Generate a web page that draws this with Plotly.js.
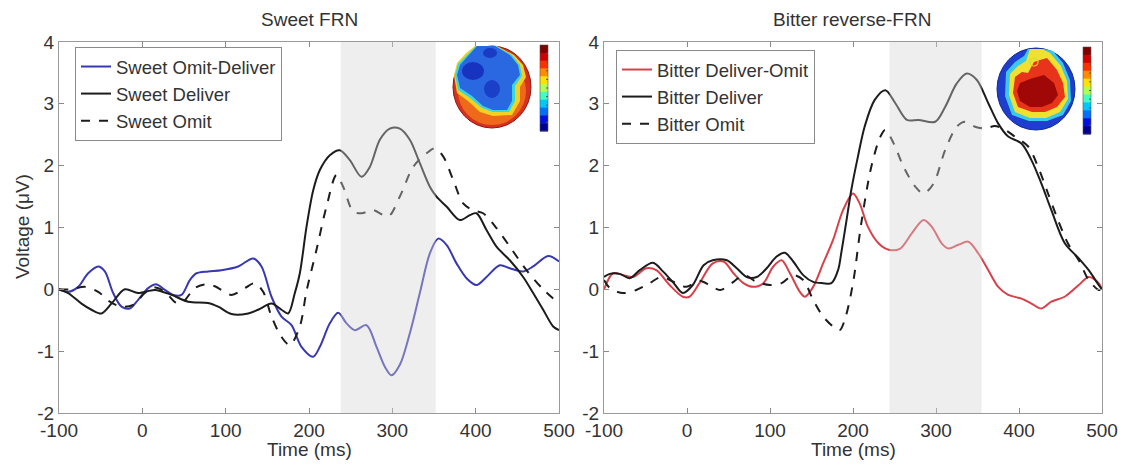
<!DOCTYPE html>
<html>
<head>
<meta charset="utf-8">
<script src="https://cdn.plot.ly/plotly-3.0.1.min.js"></script>
<style>html,body{margin:0;padding:0;background:#fff}#chart{width:1133px;height:465px}</style>
</head>
<body>
<div id="chart"></div>
<script>
// ---------- data ----------
const panelTitles = ["Sweet FRN", "Bitter reverse-FRN"];
const xTickVals = [-100, 0, 100, 200, 300, 400, 500];
const xTickText = ["-100", "0", "100", "200", "300", "400", "500"];
const yTickVals = [-2, -1, 0, 1, 2, 3, 4];
const yTickText = ["-2", "-1", "0", "1", "2", "3", "4"];
const windowSweet = [238, 352];
const windowBitter = [244, 355];

const sweetDiffT = [-100,-89,-77,-65,-53,-45,-35,-25,-15,-5,7,17,27,37,47,57,65,79,95,115,133,143,155,167,179,191,205,213,225,235,245,255,269,281,291,299,309,321,333,345,355,365,377,389,401,413,429,441,457,469,487,500];
const sweetDiffV = [0.00,-0.04,0.04,0.26,0.37,0.29,-0.06,-0.28,-0.31,-0.17,0.02,0.08,-0.01,-0.09,-0.09,0.15,0.26,0.29,0.31,0.37,0.50,0.37,-0.12,-0.44,-0.58,-0.93,-1.09,-0.93,-0.55,-0.38,-0.55,-0.66,-0.58,-0.93,-1.25,-1.39,-1.22,-0.71,-0.06,0.58,0.82,0.72,0.42,0.18,0.07,0.20,0.39,0.34,0.29,0.37,0.54,0.45];

const sweetDelT = [-100,-89,-73,-61,-49,-37,-21,-5,15,35,55,79,91,107,127,139,155,167,175,183,189,197,205,213,225,237,249,263,273,285,297,309,321,333,345,353,365,381,393,401,413,425,441,457,469,481,493,500];
const sweetDelV = [0.00,-0.06,-0.23,-0.33,-0.39,-0.23,0.00,-0.06,-0.01,-0.09,-0.20,-0.22,-0.28,-0.40,-0.39,-0.33,-0.23,-0.33,-0.39,-0.06,0.26,1.01,1.60,1.93,2.17,2.25,2.09,1.82,1.98,2.42,2.60,2.60,2.42,2.04,1.66,1.50,1.34,1.12,1.20,1.23,0.96,0.69,0.47,0.20,-0.06,-0.33,-0.60,-0.66];

const sweetOmitT = [-100,-85,-69,-53,-39,-25,-11,3,15,27,41,49,63,75,87,107,123,135,145,155,167,177,189,197,209,221,233,241,253,263,277,295,309,325,341,351,361,373,385,397,409,425,441,461,481,500];
const sweetOmitV = [0.00,0.00,0.04,-0.04,-0.20,-0.28,-0.25,-0.06,0.03,-0.04,-0.22,-0.20,0.02,0.08,0.05,-0.09,0.02,0.10,-0.04,-0.44,-0.77,-0.90,-0.60,-0.03,0.64,1.34,1.85,1.66,1.26,1.23,1.28,1.18,1.50,1.98,2.20,2.28,2.15,1.77,1.39,1.28,1.23,0.99,0.69,0.31,0.00,-0.23];

const bitterDiffT = [-100,-89,-77,-65,-49,-37,-21,-5,3,15,31,44,56,68,80,92,104,114,124,136,142,152,164,176,188,200,208,218,231,243,257,271,285,295,307,315,327,339,351,363,375,387,403,415,427,439,455,472,484,496,500];
const bitterDiffV = [0.00,0.26,0.23,0.20,0.34,0.31,0.07,-0.12,-0.12,0.10,0.42,0.45,0.26,0.10,0.04,0.10,0.37,0.47,0.26,-0.04,-0.12,0.04,0.42,0.80,1.28,1.55,1.39,1.01,0.74,0.64,0.66,0.91,1.12,1.01,0.74,0.66,0.72,0.77,0.58,0.31,0.04,-0.09,-0.15,-0.23,-0.31,-0.20,-0.12,0.07,0.20,0.10,0.00];

const bitterDelT = [-100,-93,-81,-69,-57,-41,-29,-16,-5,7,20,31,48,60,72,84,96,108,118,128,140,152,164,174,182,186,192,198,206,214,226,239,251,265,279,299,311,325,337,349,363,375,387,403,415,427,439,455,472,484,496,500];
const bitterDelV = [0.20,0.25,0.25,0.18,0.31,0.43,0.29,0.10,-0.06,0.07,0.39,0.47,0.47,0.34,0.20,0.20,0.34,0.53,0.59,0.45,0.23,0.12,0.10,0.10,0.31,0.60,1.10,1.61,2.15,2.63,3.06,3.22,3.01,2.74,2.74,2.71,2.95,3.33,3.49,3.39,3.01,2.68,2.47,2.36,2.09,1.71,1.28,0.75,0.50,0.31,0.07,0.00];

const bitterOmitT = [-100,-93,-77,-61,-45,-31,-16,-1,15,27,40,56,68,84,100,114,128,140,152,164,176,184,191,200,210,222,233,239,249,261,275,285,297,311,325,335,347,359,371,383,395,411,423,435,447,459,472,484,496,500];
const bitterOmitV = [0.15,0.02,-0.06,-0.01,0.10,0.20,0.12,0.04,0.14,0.07,-0.01,0.12,0.23,0.12,0.07,0.10,0.23,0.15,-0.17,-0.44,-0.60,-0.66,-0.45,0.10,1.07,1.98,2.47,2.58,2.36,1.98,1.66,1.55,1.71,2.25,2.63,2.71,2.63,2.60,2.64,2.58,2.47,2.31,1.98,1.55,1.12,0.74,0.47,0.15,-0.01,0.00];

const legendSweet = ["Sweet Omit-Deliver", "Sweet Deliver", "Sweet Omit"];
const legendBitter = ["Bitter Deliver-Omit", "Bitter Deliver", "Bitter Omit"];

// ---------- styling ----------
const W = 1133, H = 465;
const FONT = "Liberation Sans, Arial, sans-serif";
const TXT = "#333333";
const BLUE = "#3838b0", RED = "#d8404a", BLACK = "#1c1c1c";

function line(x, y, name, color, dash, ax, leg) {
  return {
    type: "scatter", mode: "lines", x: x, y: y, name: name,
    xaxis: "x" + ax, yaxis: "y" + ax, legend: leg,
    line: {color: color, width: 2, dash: dash, shape: "spline", smoothing: 0.9},
    hoverinfo: "skip"
  };
}

const traces = [
  line(sweetDiffT, sweetDiffV, legendSweet[0], BLUE, "solid", "", "legend"),
  line(sweetDelT, sweetDelV, legendSweet[1], BLACK, "solid", "", "legend"),
  line(sweetOmitT, sweetOmitV, legendSweet[2], BLACK, "dash", "", "legend"),
  line(bitterDiffT, bitterDiffV, legendBitter[0], RED, "solid", "2", "legend2"),
  line(bitterDelT, bitterDelV, legendBitter[1], BLACK, "solid", "2", "legend2"),
  line(bitterOmitT, bitterOmitV, legendBitter[2], BLACK, "dash", "2", "legend2")
];

const yDom = [1 - 413 / H, 1 - 42 / H];
function xax(d0, d1, anchor) {
  return {
    domain: [d0 / W, d1 / W], range: [-100, 500], tickvals: xTickVals, ticktext: xTickText,
    ticks: "inside", ticklen: 5, tickcolor: "#8a8a8a", showline: true, linecolor: "#9a9a9a",
    linewidth: 1, mirror: "ticks", showgrid: false, zeroline: false, anchor: anchor,
    tickfont: {family: FONT, size: 19, color: TXT}, fixedrange: true
  };
}
function yax(anchor) {
  return {
    domain: yDom, range: [-2, 4], tickvals: yTickVals, ticktext: yTickText,
    ticks: "inside", ticklen: 5, tickcolor: "#8a8a8a", showline: true, linecolor: "#9a9a9a",
    linewidth: 1, mirror: "ticks", showgrid: false, zeroline: false, anchor: anchor,
    tickfont: {family: FONT, size: 19, color: TXT}, fixedrange: true
  };
}

// pixel helpers for decorative insets (scalp maps + colour bars)
const px = (x) => (x / W).toFixed(5);
const py = (y) => (1 - y / H).toFixed(5);
function poly(cx, cy, pts, fill) {
  const d = pts.map((p, i) => (i ? "L" : "M") + px(cx + p[0]) + "," + py(cy + p[1])).join(" ") + " Z";
  return {type: "path", xref: "paper", yref: "paper", path: d, fillcolor: fill, line: {width: 0}, layer: "above"};
}
function ell(cx, cy, rx, ry, fill, lc, lw) {
  return {type: "circle", xref: "paper", yref: "paper", x0: px(cx - rx), x1: px(cx + rx),
    y0: py(cy + ry), y1: py(cy - ry), fillcolor: fill, line: {color: lc || fill, width: lw || 0}, layer: "above"};
}
const JET = ["#800000", "#d00000", "#ff3000", "#ff8c00", "#ffe000", "#b0ff50", "#40ffc0", "#00c8ff", "#0070ff", "#0010e0", "#000090"];
function cbar(x0, y0, x1, y1) {
  const out = [];
  const h = (y1 - y0) / JET.length;
  JET.forEach((c, i) => {
    out.push({type: "rect", xref: "paper", yref: "paper", x0: px(x0), x1: px(x1),
      y0: py(y0 + (i + 1) * h + 0.5), y1: py(y0 + i * h), fillcolor: c, line: {width: 0}, layer: "above"});
  });
  for (let k = 1; k < 10; k++) {
    const yy = y0 + k * (y1 - y0) / 10;
    out.push({type: "line", xref: "paper", yref: "paper", x0: px(x1 - 2), x1: px(x1), y0: py(yy), y1: py(yy),
      line: {color: "#555", width: 1}, layer: "above"});
  }
  out.push({type: "rect", xref: "paper", yref: "paper", x0: px(x0), x1: px(x1), y0: py(y1), y1: py(y0),
    line: {color: "#555", width: 0.6}, layer: "above"});
  return out;
}

const shapes = [
  {type: "rect", xref: "x", yref: "y", x0: windowSweet[0], x1: windowSweet[1], y0: -2, y1: 4,
   fillcolor: "rgba(212,212,212,0.40)", line: {width: 0}, layer: "above"},
  {type: "rect", xref: "x2", yref: "y2", x0: windowBitter[0], x1: windowBitter[1], y0: -2, y1: 4,
   fillcolor: "rgba(212,212,212,0.40)", line: {width: 0}, layer: "above"}
];

// left scalp map (blue centre, red rim)
const LX = 492, LY = 87;
const blueL = [[-15,-41],[3,-41],[18,-32],[26,-22],[28,-12],[20,-2],[20,14],[15,23],[1,23],[-9,19],[-20,9],[-32,1],[-35,-12],[-32,-22],[-24,-31]];
const grow = (pts, k) => pts.map(p => [p[0] * k, p[1] * k]);
shapes.push(ell(LX, LY, 39, 41, "#d8301e", "#8a1a10", 1));
shapes.push(ell(LX, LY + 4, 34, 34, "#ee6a1a"));
shapes.push(poly(LX, LY, [[-17,-41],[5,-41],[22,-32],[31,-22],[34,-10],[28,0],[28,14],[20,28],[1,29],[-12,25],[-24,14],[-35,6],[-38,-12],[-35,-24],[-26,-34]], "#f2d21e"));
shapes.push(poly(LX, LY, [[-16,-41],[4,-41],[20,-32],[28,-22],[30,-11],[23,-1],[23,14],[17,25],[1,25],[-10,21],[-22,11],[-34,3],[-37,-12],[-34,-23],[-25,-32]], "#3ad6e0"));
shapes.push(poly(LX, LY, blueL, "#2a68e2"));
shapes.push(ell(LX - 19, LY - 16, 11, 9, "#1634c0"));
shapes.push(ell(LX, LY + 2, 8, 9, "#1a40c8"));
shapes.push(ell(LX - 2, LY - 34, 7, 5, "#1a3cc4"));
shapes.push(...cbar(540, 45, 548, 131));

// right scalp map (red centre, blue rim)
const RX = 1036, RY = 89;
shapes.push(ell(RX, RY, 39, 41, "#1e3ed0", "#122a90", 1));
shapes.push(poly(RX, RY, [[-30,-17],[-21,-27],[-12,-33],[-8,-40],[8,-40],[17,-38],[27,-26],[34,-9],[35,12],[27,26],[11,32],[-7,32],[-24,26],[-31,7]], "#3cc8ea"));
shapes.push(poly(RX, RY, [[-26,-15],[-18,-23],[-10,-28],[-6,-40],[6,-40],[14,-36],[25,-23],[31,-8],[32,10],[24,23],[10,29],[-6,29],[-21,23],[-27,6]], "#f0e030"));
shapes.push(poly(RX, RY, [[-21,-12],[-14,-17],[-8,-16],[-2,-27],[4,-29],[11,-31],[21,-19],[27,-6],[29,8],[21,18],[9,23],[-4,23],[-18,18],[-23,4]], "#e8341a"));
shapes.push(poly(RX, RY, [[-16,-6],[-6,-10],[8,-14],[18,-6],[22,6],[16,14],[6,18],[-6,18],[-16,12],[-19,2]], "#a00808"));
shapes.push(ell(RX - 2, RY - 27, 4, 4, "rgba(0,0,0,0)", "#c8e040", 1.2));
shapes.push(...cbar(1083, 47, 1091, 134));

function ann(text, x, y, size, angle) {
  return {text: text, xref: "paper", yref: "paper", x: x / W, y: 1 - y / H, xanchor: "center", yanchor: "middle",
    showarrow: false, textangle: angle || 0, font: {family: FONT, size: size, color: TXT}};
}

const legendStyle = (x, y) => ({
  x: x / W, y: 1 - y / H, xanchor: "left", yanchor: "top",
  bgcolor: "#ffffff", bordercolor: "#8a8a8a", borderwidth: 1,
  font: {family: FONT, size: 18.5, color: TXT}, itemwidth: 30, tracegroupgap: 0
});

const layout = {
  width: W, height: H, margin: {l: 0, r: 0, t: 0, b: 0},
  paper_bgcolor: "#ffffff", plot_bgcolor: "#ffffff", showlegend: true,
  font: {family: FONT, color: TXT},
  xaxis: xax(59, 559, "y"), yaxis: yax("x"),
  xaxis2: xax(604, 1102, "y2"), yaxis2: yax("x2"),
  legend: legendStyle(75, 47), legend2: legendStyle(616, 50),
  shapes: shapes,
  annotations: [
    ann(panelTitles[0], 309, 20, 19), ann(panelTitles[1], 852, 20, 19),
    ann("Time (ms)", 309, 449, 19), ann("Time (ms)", 853, 449, 19),
    ann("Voltage (\u03bcV)", 22, 227, 19, -90)
  ]
};

Plotly.newPlot("chart", traces, layout, {staticPlot: true, displayModeBar: false});
</script>
</body>
</html>
